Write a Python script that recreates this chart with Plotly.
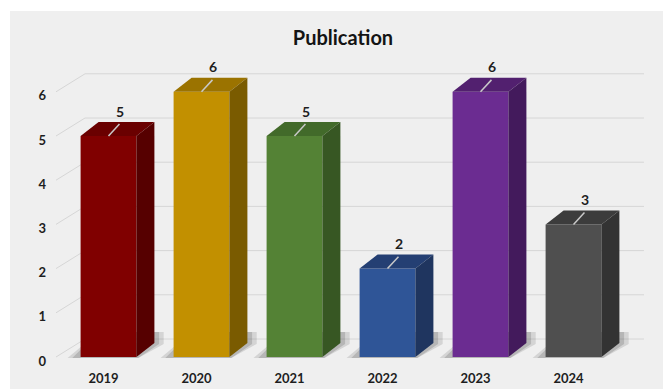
import plotly.graph_objects as go

# ---- data ----
years = ["2019", "2020", "2021", "2022", "2023", "2024"]
publications = [5, 6, 5, 2, 6, 3]
y_ticks = [0, 1, 2, 3, 4, 5, 6]

# ---- styles ----
front_colors = ["#800000", "#c29000", "#548235", "#2f5597", "#6b2c91", "#4f4f4f"]
top_colors = ["#6a0000", "#9b7300", "#426a2a", "#243f73", "#52206f", "#3c3c3c"]
side_colors = ["#560000", "#7a5b00", "#375723", "#1f355f", "#431a5c", "#333333"]

BAR_W = 0.6
DX = 18 / 93.0      # bar depth (x units)
DY = 14 / 44.2      # bar depth (y units)
WALL_DY = 18 / 44.2
WALL_X_FRONT = -0.5645
WALL_X_BACK = -0.2527
WALL_X_RIGHT = 5.758

xs = list(range(len(years)))

fig = go.Figure()

# front faces
fig.add_trace(go.Bar(
    x=xs, y=publications, width=BAR_W,
    marker=dict(color=front_colors, line=dict(width=0)),
    hoverinfo="skip", showlegend=False,
))

# top and side faces
for i, v in enumerate(publications):
    l, r = i - BAR_W / 2, i + BAR_W / 2
    fig.add_trace(go.Scatter(
        x=[l, l + DX, r + DX, r, l], y=[v, v + DY, v + DY, v, v],
        fill="toself", fillcolor=top_colors[i], mode="lines",
        line=dict(width=0, color=top_colors[i]), hoverinfo="skip", showlegend=False,
    ))
    fig.add_trace(go.Scatter(
        x=[r, r + DX, r + DX, r, r], y=[0, DY, v + DY, v, 0],
        fill="toself", fillcolor=side_colors[i], mode="lines",
        line=dict(width=0, color=side_colors[i]), hoverinfo="skip", showlegend=False,
    ))
    # leader line
    fig.add_trace(go.Scatter(
        x=[i, i + 0.118], y=[v, v + 0.27], mode="lines",
        line=dict(width=1.5, color="#c9c9c9"), hoverinfo="skip", showlegend=False,
    ))

# value labels
fig.add_trace(go.Scatter(
    x=[i + 0.125 for i in xs], y=[v + 0.52 for v in publications],
    mode="text", text=[str(v) for v in publications],
    textfont=dict(family="Lato", size=14, color="#1e1e1e", weight="bold"),
    hoverinfo="skip", showlegend=False,
))

shapes = []
# white outer border (top and left)
shapes.append(dict(type="rect", xref="paper", yref="paper",
                   x0=-0.1, x1=1.1, y0=1.1223, y1=1.2,
                   fillcolor="white", line=dict(width=0), layer="below"))
shapes.append(dict(type="rect", xref="paper", yref="paper",
                   x0=-0.1, x1=-0.0702, y0=-0.1, y1=1.2,
                   fillcolor="white", line=dict(width=0), layer="below"))
# wall / floor gridlines
for t in y_ticks:
    path = (f"M {WALL_X_FRONT},{t} L {WALL_X_BACK},{t + WALL_DY} "
            f"L {WALL_X_RIGHT},{t + WALL_DY}")
    shapes.append(dict(type="path", xref="x", yref="y", path=path,
                       line=dict(color="#d6d6d6", width=1), layer="below"))
# soft shadows on the floor
for i in xs:
    l, r = i - BAR_W / 2, i + BAR_W / 2
    for grow, op in [(0.10, 0.18), (0.05, 0.25)]:
        path = (f"M {l - grow - 0.04},{-0.02} L {r + 0.02},{-0.02} "
                f"L {r + DX + grow},{DY - 0.02} L {r + DX + grow},{DY + 0.25} "
                f"L {l + DX},{DY + 0.25} Z")
        shapes.append(dict(type="path", xref="x", yref="y", path=path,
                           fillcolor=f"rgba(90,90,90,{op})", line=dict(width=0),
                           layer="below"))

fig.update_layout(
    width=663, height=389,
    margin=dict(l=52, r=13, t=50, b=20),
    paper_bgcolor="#efefef", plot_bgcolor="rgba(0,0,0,0)",
    title=dict(text="Publication", x=343 / 663, xref="container", xanchor="center",
               y=1 - 38 / 389, yref="container", yanchor="middle",
               font=dict(family="Lato", size=20, color="#141414", weight="bold")),
    shapes=shapes,
    xaxis=dict(range=[-0.6075, 5.8226], tickvals=xs, ticktext=years,
               showgrid=False, zeroline=False, showline=False, ticks="",
               ticklabelshift=-5, fixedrange=True, automargin=False,
               tickfont=dict(family="Lato", size=13, color="#1e1e1e", weight="bold")),
    yaxis=dict(range=[-0.2715, 6.9457], tickvals=y_ticks,
               showgrid=False, zeroline=False, showline=False, ticks="",
               ticklabelshift=4, ticklabelstandoff=5, fixedrange=True, automargin=False,
               tickfont=dict(family="Lato", size=13, color="#1e1e1e", weight="bold")),
    showlegend=False,
)

fig.write_html(
    "out.html",
    post_script=("document.body.style.margin='0';"
                 "document.body.style.overflow='hidden';"
                 "document.documentElement.style.overflow='hidden';"),
    config={"displayModeBar": False},
)
